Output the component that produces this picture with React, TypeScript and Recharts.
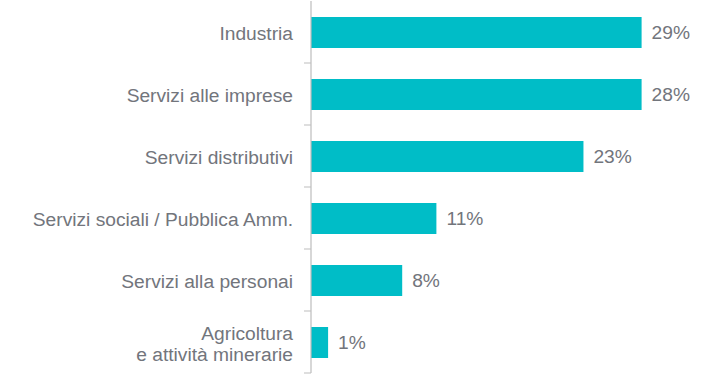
import { BarChart, Bar, XAxis, YAxis, LabelList } from "recharts";

const categories = [
  ["Industria"],
  ["Servizi alle imprese"],
  ["Servizi distributivi"],
  ["Servizi sociali / Pubblica Amm."],
  ["Servizi alla personai"],
  ["Agricoltura", "e attività minerarie"],
];
const values = [29, 29, 23.9, 11, 8, 1.5];
const valueLabels = ["29%", "28%", "23%", "11%", "8%", "1%"];

const data = categories.map((c, i) => ({
  name: c.join("|"),
  value: values[i],
  label: valueLabels[i],
}));

const W = 723;
const H = 378;
const M = { top: 1, right: 70, bottom: 5, left: 0 };
const BAND = (H - M.top - M.bottom) / categories.length;
const TEXT = "#72757c";
const FONT = "'Liberation Sans', Arial, sans-serif";
const FS = 19.2;

// eslint-disable-next-line @typescript-eslint/no-explicit-any
const CategoryTick = ({ x, y, payload }: any) => {
  const lines: string[] = String(payload.value).split("|");
  const lh = 21;
  const y0 = y + 1 - ((lines.length - 1) * lh) / 2;
  return (
    <g>
      <text x={x} y={y0} textAnchor="end" dominantBaseline="central" fill={TEXT} fontSize={FS} fontFamily={FONT}>
        {lines.map((l, i) => (
          <tspan key={i} x={x} y={y0 + i * lh}>{l}</tspan>
        ))}
      </text>
      <line x1={x + 11} x2={x + 18} y1={y + BAND / 2} y2={y + BAND / 2} stroke="#bdbdbd" strokeWidth={1} />
    </g>
  );
};

export default function App() {
  return (
    <div style={{ position: "absolute", left: 0, top: 0, width: W, height: H, background: "#fff" }}>
      <BarChart width={W} height={H} data={data} layout="vertical" margin={M}>
        <XAxis type="number" dataKey="value" domain={[0, 30]} height={0} axisLine={false} tickLine={false} tick={false} />
        <YAxis
          type="category"
          dataKey="name"
          width={311}
          axisLine={{ stroke: "#bdbdbd", strokeWidth: 1.2 }}
          tickLine={false}
          tickSize={7}
          tickMargin={11}
          tick={<CategoryTick />}
          interval={0}
        />
        <Bar dataKey="value" fill="#00bdc7" barSize={31} isAnimationActive={false}>
          <LabelList
            dataKey="label"
            position="right"
            offset={10}
            style={{ fill: TEXT, fontSize: FS, fontFamily: FONT }}
          />
        </Bar>
      </BarChart>
    </div>
  );
}
